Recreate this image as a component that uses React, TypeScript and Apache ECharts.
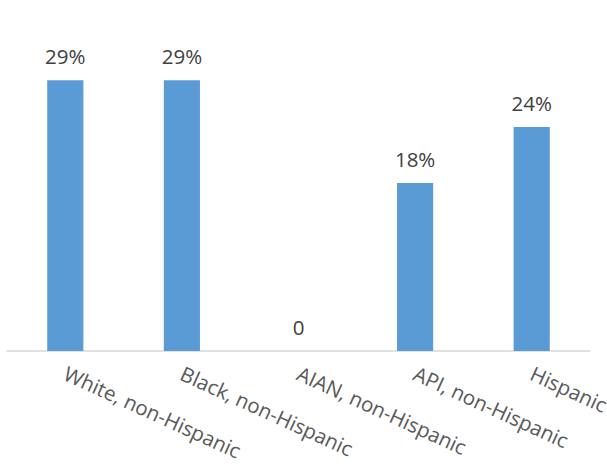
import React, { useEffect, useRef } from "react";
import * as echarts from "echarts";

const categories = [
  "White, non-Hispanic",
  "Black, non-Hispanic",
  "AIAN, non-Hispanic",
  "API, non-Hispanic",
  "Hispanic",
];
const values = [29, 29, 0, 18, 24];

export default function App() {
  const ref = useRef<HTMLDivElement>(null);
  useEffect(() => {
    if (!ref.current) return;
    const chart = echarts.init(ref.current, null, { renderer: "svg" });
    chart.setOption({
      animation: false,
      grid: {
        left: 7,
        right: 17,
        top: 71,
        bottom: 121,
        containLabel: false,
        outerBoundsMode: "none",
      },
      xAxis: {
        type: "category",
        data: categories,
        axisLine: { lineStyle: { color: "#d9d9d9", width: 1.5 } },
        axisTick: { show: false },
        axisLabel: {
          interval: 0,
          rotate: -24.5,
          color: "#595959",
          fontFamily: "'Open Sans', sans-serif",
          fontSize: 20.5,
          margin: 21,
        },
      },
      yAxis: {
        type: "value",
        min: 0,
        max: 30,
        show: false,
        splitLine: { show: false },
      },
      series: [
        {
          type: "bar",
          data: values,
          barWidth: "31%",
          itemStyle: { color: "#5b9bd5" },
          label: {
            show: true,
            position: "top",
            distance: 14,
            color: "#404040",
            fontFamily: "'Open Sans', sans-serif",
            fontSize: 20.5,
            formatter: (p: any) => (p.value === 0 ? "0" : p.value + "%"),
          },
        },
      ],
    });
    return () => chart.dispose();
  }, []);
  return <div ref={ref} style={{ width: 607, height: 472, position: "absolute", left: 0, top: 0 }} />;
}
